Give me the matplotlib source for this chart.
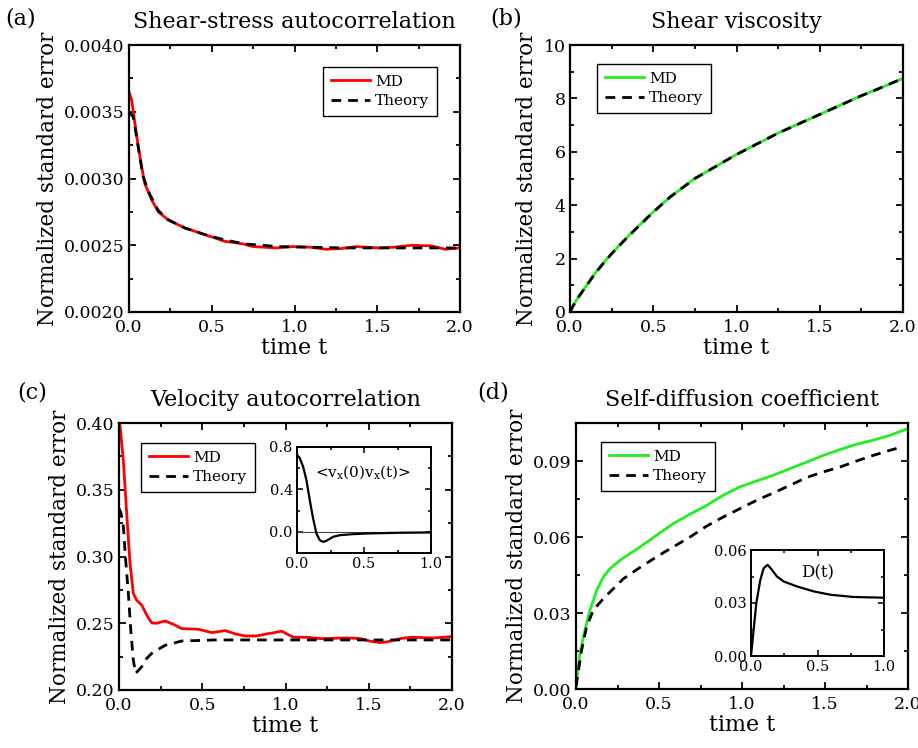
import matplotlib
matplotlib.use("Agg")
import matplotlib.pyplot as plt
from matplotlib.ticker import MultipleLocator, FormatStrFormatter

plt.rcParams['font.family'] = ['DejaVu Serif']
plt.rcParams['mathtext.fontset'] = 'dejavuserif'

# ---- (a) Shear-stress autocorrelation ----
a_t_md = [0.0, 0.016, 0.036, 0.056, 0.076, 0.096, 0.137, 0.177, 0.237, 0.337, 0.458, 0.578, 0.689, 0.75, 0.89, 0.99, 1.1, 1.19, 1.28, 1.37, 1.51, 1.6, 1.71, 1.83, 1.91, 2.0]
a_md = [0.00365, 0.00359, 0.00341, 0.00324, 0.00309, 0.00296, 0.00284, 0.00275, 0.00269, 0.00263, 0.00258, 0.00253, 0.00251, 0.00249, 0.00248, 0.00249, 0.002485, 0.00247, 0.002475, 0.00249, 0.00248, 0.002485, 0.00250, 0.002495, 0.00247, 0.00248]
a_t_th = [0.0, 0.026, 0.046, 0.066, 0.086, 0.126, 0.177, 0.237, 0.337, 0.458, 0.578, 0.7, 0.9, 1.1, 1.3, 1.5, 1.7, 2.0]
a_th = [0.00350, 0.00346, 0.00331, 0.00316, 0.00301, 0.00288, 0.00276, 0.00269, 0.00263, 0.00258, 0.00254, 0.00251, 0.00249, 0.002485, 0.00248, 0.00248, 0.00248, 0.00248]

# ---- (b) Shear viscosity ----
b_t = [0.0, 0.02, 0.05, 0.1, 0.15, 0.2, 0.25, 0.3, 0.35, 0.4, 0.45, 0.5, 0.6, 0.75, 0.875, 1.0, 1.125, 1.25, 1.375, 1.5, 1.625, 1.75, 1.875, 2.0]
b_md = [0.0, 0.25, 0.56, 1.0, 1.45, 1.83, 2.19, 2.52, 2.84, 3.15, 3.45, 3.75, 4.3, 5.0, 5.45, 5.9, 6.3, 6.7, 7.05, 7.4, 7.75, 8.1, 8.42, 8.75]
b_th = [0.0, 0.24, 0.55, 0.99, 1.44, 1.82, 2.18, 2.51, 2.83, 3.14, 3.44, 3.74, 4.3, 5.0, 5.45, 5.9, 6.3, 6.7, 7.05, 7.4, 7.75, 8.1, 8.42, 8.75]

# ---- (c) Velocity autocorrelation ----
c_t_md = [0.0, 0.006, 0.026, 0.046, 0.066, 0.086, 0.106, 0.137, 0.167, 0.197, 0.227, 0.277, 0.327, 0.377, 0.477, 0.558, 0.638, 0.7, 0.757, 0.827, 0.888, 0.978, 1.008, 1.048, 1.13, 1.21, 1.37, 1.45, 1.51, 1.57, 1.61, 1.69, 1.75, 1.89, 2.0]
c_md = [0.399, 0.3985, 0.372, 0.3325, 0.295, 0.2725, 0.2672, 0.2635, 0.256, 0.2502, 0.25, 0.2517, 0.2492, 0.246, 0.2455, 0.243, 0.2445, 0.242, 0.2405, 0.2405, 0.242, 0.244, 0.242, 0.2395, 0.2395, 0.2385, 0.239, 0.2385, 0.2365, 0.2355, 0.236, 0.2385, 0.2395, 0.239, 0.24]
c_t_th = [0.0, 0.012, 0.026, 0.04, 0.056, 0.072, 0.086, 0.1, 0.137, 0.157, 0.197, 0.277, 0.377, 0.578, 0.8, 1.0, 1.5, 2.0]
c_th = [0.336, 0.3325, 0.3225, 0.2975, 0.2725, 0.2425, 0.2225, 0.2125, 0.2175, 0.2225, 0.2275, 0.2335, 0.2367, 0.2375, 0.2375, 0.2375, 0.2375, 0.2375]
# inset: VACF
ci_t = [0.0, 0.02, 0.045, 0.07, 0.095, 0.12, 0.145, 0.17, 0.195, 0.22, 0.27, 0.32, 0.42, 0.52, 0.77, 1.0]
ci_v = [0.727, 0.696, 0.617, 0.49, 0.30, 0.127, -0.016, -0.079, -0.095, -0.085, -0.047, -0.032, -0.022, -0.016, -0.009, -0.006]

# ---- (d) Self-diffusion coefficient ----
d_t_md = [0.0, 0.024, 0.054, 0.084, 0.125, 0.165, 0.205, 0.265, 0.386, 0.486, 0.586, 0.687, 0.787, 0.887, 0.988, 1.088, 1.189, 1.289, 1.39, 1.49, 1.59, 1.69, 1.79, 1.89, 2.0]
d_md = [0.001, 0.0142, 0.0233, 0.0311, 0.039, 0.0443, 0.0475, 0.0508, 0.0561, 0.0607, 0.0653, 0.069, 0.0725, 0.0765, 0.0798, 0.0821, 0.0844, 0.087, 0.0896, 0.0922, 0.0945, 0.0966, 0.0982, 0.1001, 0.1028]
d_t_th = [0.0, 0.034, 0.064, 0.104, 0.165, 0.225, 0.285, 0.386, 0.486, 0.586, 0.687, 0.787, 0.887, 0.988, 1.088, 1.189, 1.289, 1.39, 1.49, 1.59, 1.69, 1.79, 1.89, 1.96]
d_th = [0.001, 0.0154, 0.0246, 0.0311, 0.0357, 0.0396, 0.0435, 0.048, 0.0522, 0.0561, 0.06, 0.0643, 0.0679, 0.0712, 0.0745, 0.0774, 0.0804, 0.0835, 0.0857, 0.0876, 0.09, 0.0922, 0.0942, 0.0955]
# inset: D(t)
di_t = [0.0, 0.02, 0.04, 0.07, 0.095, 0.125, 0.157, 0.195, 0.245, 0.345, 0.47, 0.595, 0.77, 1.0]
di_v = [0.0, 0.015, 0.03, 0.043, 0.0497, 0.0516, 0.0488, 0.045, 0.0422, 0.0394, 0.0366, 0.0347, 0.0334, 0.033]

W, H = 918, 748
fig = plt.figure(figsize=(W / 100, H / 100), dpi=100)


def rect(l, t, r, b):
    return [l / W, 1 - b / H, (r - l) / W, (b - t) / H]


def style(ax, fs=12.5, maj=5, mnr=3, lw=1.6):
    for s in ax.spines.values():
        s.set_linewidth(lw)
    ax.tick_params(which='both', direction='in', top=True, right=True, labelsize=fs, width=lw * 0.8)
    ax.tick_params(which='major', length=maj, pad=3)
    ax.tick_params(which='minor', length=mnr)


RED = '#ff0000'
GREEN = '#22ee22'
dash = (0, (3.5, 2.5))

specs = [
    ('Shear-stress autocorrelation', rect(129, 45, 460, 312)),
    ('Shear viscosity', rect(570, 45, 903, 312)),
    ('Velocity autocorrelation', rect(119, 423, 452, 690)),
    ('Self-diffusion coefficient', rect(576, 423, 908, 689)),
]
axes = []
for title, r in specs:
    ax = fig.add_axes(r)
    style(ax)
    ax.tick_params(axis='x', which='major', pad=5)
    ax.set_title(title, fontsize=16, pad=12)
    ax.set_xlabel('time t', fontsize=16, labelpad=1)
    ax.set_ylabel('Normalized standard error', fontsize=15.5, labelpad=4)
    ax.set_xlim(0, 2.0)
    ax.xaxis.set_major_locator(MultipleLocator(0.5))
    ax.xaxis.set_minor_locator(MultipleLocator(0.25))
    ax.xaxis.set_major_formatter(FormatStrFormatter('%.1f'))
    axes.append(ax)

fig.text(5 / W, 1 - 18 / H, '(a)', fontsize=16, va='center', ha='left')
fig.text(490 / W, 1 - 18 / H, '(b)', fontsize=16, va='center', ha='left')
fig.text(17 / W, 1 - 393 / H, '(c)', fontsize=16, va='center', ha='left')
fig.text(477 / W, 1 - 393 / H, '(d)', fontsize=16, va='center', ha='left')

leg_kw = dict(fontsize=11, frameon=True, fancybox=False, edgecolor='black', framealpha=1,
              handlelength=2.6, borderaxespad=0, loc='upper left', bbox_transform=fig.transFigure,
              borderpad=0.5, labelspacing=0.35, handletextpad=0.3)

# (a)
ax = axes[0]
ax.plot(a_t_md, a_md, color=RED, lw=2, label='MD')
ax.plot(a_t_th, a_th, color='black', lw=2, linestyle=dash, label='Theory')
ax.set_ylim(0.0020, 0.0040)
ax.yaxis.set_major_locator(MultipleLocator(0.0005))
ax.yaxis.set_minor_locator(MultipleLocator(0.00025))
ax.yaxis.set_major_formatter(FormatStrFormatter('%.4f'))
leg = ax.legend(bbox_to_anchor=(323 / W, 1 - 67 / H), **leg_kw)
leg.get_frame().set_linewidth(1.0)

# (b)
ax = axes[1]
ax.plot(b_t, b_md, color=GREEN, lw=2, label='MD')
ax.plot(b_t, b_th, color='black', lw=2, linestyle=dash, label='Theory')
ax.set_ylim(0, 10)
ax.yaxis.set_major_locator(MultipleLocator(2))
ax.yaxis.set_minor_locator(MultipleLocator(1))
leg = ax.legend(bbox_to_anchor=(597 / W, 1 - 64 / H), **leg_kw)
leg.get_frame().set_linewidth(1.0)

# (c)
ax = axes[2]
ax.plot(c_t_md, c_md, color=RED, lw=2, label='MD')
ax.plot(c_t_th, c_th, color='black', lw=2, linestyle=dash, label='Theory')
ax.set_ylim(0.20, 0.40)
ax.yaxis.set_major_locator(MultipleLocator(0.05))
ax.yaxis.set_minor_locator(MultipleLocator(0.025))
ax.yaxis.set_major_formatter(FormatStrFormatter('%.2f'))
leg = ax.legend(bbox_to_anchor=(141 / W, 1 - 443 / H), **leg_kw)
leg.get_frame().set_linewidth(1.0)

# (d)
ax = axes[3]
ax.plot(d_t_md, d_md, color=GREEN, lw=2, label='MD')
ax.plot(d_t_th, d_th, color='black', lw=2, linestyle=dash, label='Theory')
ax.set_ylim(0, 0.105)
ax.yaxis.set_major_locator(MultipleLocator(0.03))
ax.yaxis.set_minor_locator(MultipleLocator(0.015))
ax.yaxis.set_major_formatter(FormatStrFormatter('%.2f'))
leg = ax.legend(bbox_to_anchor=(601 / W, 1 - 442 / H), **leg_kw)
leg.get_frame().set_linewidth(1.0)

# inset (c)
ins = fig.add_axes(rect(297, 447, 431, 553))
style(ins, fs=10.5, maj=4, mnr=2, lw=1.4)
ins.axhline(0, color='#444444', lw=0.8)
ins.plot(ci_t, ci_v, color='black', lw=1.6)
ins.set_xlim(0, 1.0)
ins.set_ylim(-0.2, 0.8)
ins.xaxis.set_major_locator(MultipleLocator(0.5))
ins.xaxis.set_minor_locator(MultipleLocator(0.25))
ins.yaxis.set_major_locator(MultipleLocator(0.4))
ins.yaxis.set_minor_locator(MultipleLocator(0.2))
ins.xaxis.set_major_formatter(FormatStrFormatter('%.1f'))
ins.yaxis.set_major_formatter(FormatStrFormatter('%.1f'))
ins.text(0.49, 0.76, r'<v$_\mathregular{x}$(0)v$_\mathregular{x}$(t)>', transform=ins.transAxes,
         ha='center', va='center', fontsize=11)

# inset (d)
ind = fig.add_axes(rect(751, 550, 884, 656))
style(ind, fs=10.5, maj=4, mnr=2, lw=1.4)
ind.plot(di_t, di_v, color='black', lw=1.6)
ind.set_xlim(0, 1.0)
ind.set_ylim(0, 0.06)
ind.xaxis.set_major_locator(MultipleLocator(0.5))
ind.xaxis.set_minor_locator(MultipleLocator(0.25))
ind.yaxis.set_major_locator(MultipleLocator(0.03))
ind.yaxis.set_minor_locator(MultipleLocator(0.015))
ind.xaxis.set_major_formatter(FormatStrFormatter('%.1f'))
ind.yaxis.set_major_formatter(FormatStrFormatter('%.2f'))
ind.text(0.5, 0.78, 'D(t)', transform=ind.transAxes, ha='center', va='center', fontsize=12)

fig.savefig('out.png', dpi=100)
